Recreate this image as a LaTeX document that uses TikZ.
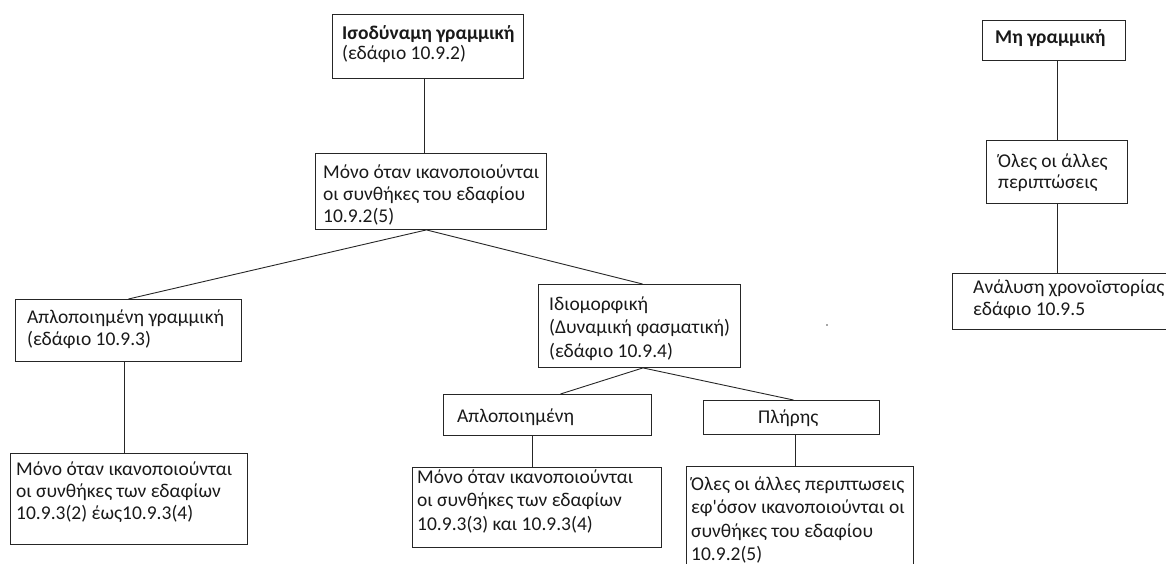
\documentclass[tikz,border=0pt]{standalone}
\usepackage{fontspec}
\newfontfamily\cfont{Carlito}
\newcommand{\boxlines}[1]{\begin{tabular}[t]{@{}l@{}}#1\end{tabular}}
\begin{document}
\begin{tikzpicture}[x=1pt,y=-1pt,
  box/.style={draw=black!85, line width=0.9pt, inner sep=0pt, anchor=north west},
  txt/.style={anchor=base west, inner sep=0pt, text=black!90, font=\cfont\fontsize{19.5}{22}\selectfont},
  conn/.style={draw=black!85, line width=0.9pt}]
\useasboundingbox (0,0) rectangle (1166,563);
\clip (0,0) rectangle (1166,563);
% boxes
\node[box, minimum width=191pt, minimum height=64pt] (b1) at (332,14) {};
\node[box, minimum width=231pt, minimum height=76pt] (b2) at (315,153) {};
\node[box, minimum width=226pt, minimum height=62pt] (b3) at (15,299) {};
\node[box, minimum width=202pt, minimum height=83pt] (b4) at (538,284) {};
\node[box, minimum width=237pt, minimum height=91pt] (b5) at (10,453) {};
\node[box, minimum width=208pt, minimum height=41pt] (b6) at (443,394) {};
\node[box, minimum width=176pt, minimum height=34pt] (b7) at (703,400) {};
\node[box, minimum width=249pt, minimum height=80pt] (b8) at (412,467) {};
\node[box, minimum width=227pt, minimum height=140pt] (b9) at (686,466) {};
\node[box, minimum width=143pt, minimum height=40pt] (r1) at (982,20) {};
\node[box, minimum width=141pt, minimum height=63pt] (r2) at (986,140) {};
\node[box, minimum width=230pt, minimum height=56pt] (r3) at (952,273) {};
% texts
\node[txt, font=\cfont\fontsize{19.5}{20.5}\selectfont] (t1) at (342,39) {\boxlines{\textbf{Ισοδύναμη γραμμική}\\(εδάφιο 10.9.2)}};
\node[txt] (t2) at (323,178) {\boxlines{Μόνο όταν ικανοποιούνται\\οι συνθήκες του εδαφίου\\10.9.2(5)}};
\node[txt] (t3) at (27,323) {\boxlines{Απλοποιημένη γραμμική\\(εδάφιο 10.9.3)}};
\node[txt, font=\cfont\fontsize{19.5}{23.5}\selectfont] (t4) at (549,310) {\boxlines{Ιδιομορφική\\(Δυναμική φασματική)\\(εδάφιο 10.9.4)}};
\node[txt] (t5) at (16,475) {\boxlines{Μόνο όταν ικανοποιούνται\\οι συνθήκες των εδαφίων\\10.9.3(2) έως10.9.3(4)}};
\node[txt] (t6) at (457,422) {Απλοποιημένη};
\node[txt] (t7) at (758,423) {Πλήρης};
\node[txt, font=\cfont\fontsize{19.5}{23.5}\selectfont] (t8) at (417,483) {\boxlines{Μόνο όταν ικανοποιούνται\\οι συνθήκες των εδαφίων\\10.9.3(3) και 10.9.3(4)}};
\node[txt, font=\cfont\fontsize{19.5}{23.5}\selectfont] (t9) at (691,490) {\boxlines{Όλες οι άλλες περιπτωσεις\\εφ'όσον ικανοποιούνται οι\\συνθήκες του εδαφίου\\10.9.2(5)}};
\node[txt] (tr1) at (995,43) {\textbf{Μη γραμμική}};
\node[txt, font=\cfont\fontsize{19.5}{21.5}\selectfont] (tr2) at (998,167) {\boxlines{Όλες οι άλλες\\περιπτώσεις}};
\node[txt] (tr3) at (973,293) {\boxlines{Ανάλυση χρονοϊστορίας\\εδάφιο 10.9.5}};
% connectors
\draw[conn] ([xshift=-3.5pt]b1.south) -- ([xshift=-6.5pt]b2.north);
\draw[conn] (b3.north) -- ([xshift=-4.5pt]b2.south) -- ([xshift=3pt]b4.north);
\draw[conn] ([xshift=-4pt]b3.south) -- ([xshift=-4.5pt]b5.north);
\draw[conn] ([xshift=13pt]b6.north) -- ([xshift=3.5pt]b4.south) -- ([xshift=2pt]b7.north);
\draw[conn] ([xshift=-15pt]b6.south) -- ([xshift=-4.5pt]b8.north);
\draw[conn] ([xshift=4pt]b7.south) -- ([xshift=-4.5pt]b9.north);
\draw[conn] ([xshift=3.5pt]r1.south) -- ([xshift=0.5pt]r2.north);
\draw[conn] ([xshift=0.5pt]r2.south) -- ([xshift=-10pt]r3.north);
% stray dot
\fill[black!70] (827,325) circle (0.9);
\end{tikzpicture}
\end{document}
